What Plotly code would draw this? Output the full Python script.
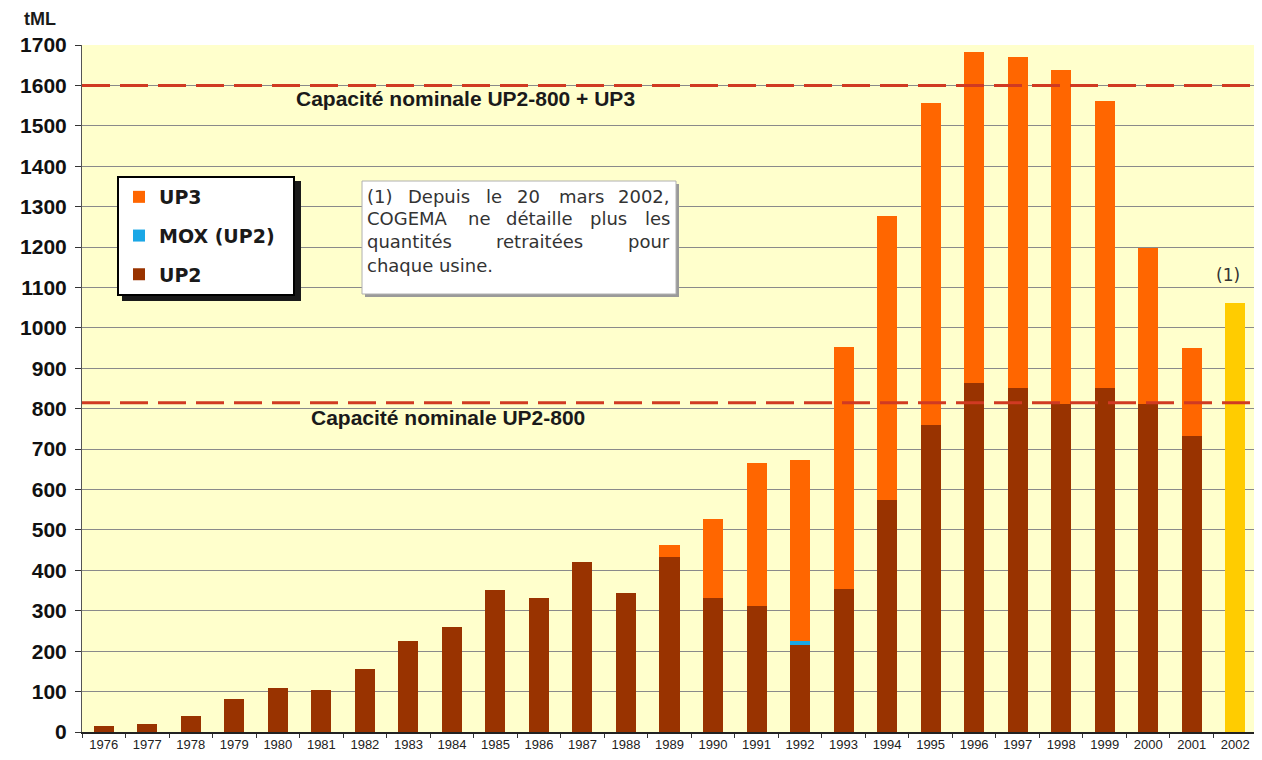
import plotly.graph_objects as go

# ---------------- data ----------------
years = [str(y) for y in range(1976, 2003)]
up2 = [15, 20, 40, 82, 109, 105, 156, 225, 260, 351, 332, 421, 344, 433, 332, 312,
       215, 354, 574, 760, 864, 851, 812, 851, 812, 733, None]
mox = [None] * 16 + [10] + [None] * 10
up3 = [None] * 13 + [30, 195, 354, 448, 599, 703, 797, 819, 819, 826, 710, 386, 216, None]
total_2002 = [None] * 26 + [1062]
capacities = [1600, 815]
capacity_labels = ["Capacité nominale UP2-800 + UP3", "Capacité nominale UP2-800"]
y_ticks = list(range(0, 1701, 100))

note_lines = [
    ["(1)", "Depuis", "le", "20", "mars", "2002,"],
    ["COGEMA", "ne", "détaille", "plus", "les"],
    ["quantités", "retraitées", "pour"],
    ["chaque usine."],
]

# ---------------- layout helpers (screen pixel -> paper) ----------------
OFF = 8                      # page body margin
W, H = 1262 - OFF, 760 - OFF
L, R, T, B = 82 - OFF, 5, 45 - OFF, 28
PW, PH = W - L - R, H - T - B


def px(x):
    return (x - OFF - L) / PW


def py(y):
    return 1 - (y - OFF - T) / PH


fig = go.Figure()
fig.add_trace(go.Bar(x=years, y=up2, name="UP2", marker_color="#993300",
                     marker_line_width=0, legendgroup="a", legendrank=3))
fig.add_trace(go.Bar(x=years, y=mox, name="MOX (UP2)\u00a0\u00a0", marker_color="#1AA7E6",
                     marker_line_width=0, legendgroup="b", legendrank=2))
fig.add_trace(go.Bar(x=years, y=up3, name="UP3", marker_color="#FF6600",
                     marker_line_width=0, legendgroup="c", legendrank=1))
fig.add_trace(go.Bar(x=years, y=total_2002, name="Total", marker_color="#FFCC00",
                     marker_line_width=0, showlegend=False))

shapes = []
# legend shadow
shapes.append(dict(type="rect", xref="paper", yref="paper", x0=px(122), x1=px(301),
                   y0=py(301), y1=py(181), fillcolor="#1a1a1a", line_width=0, layer="above"))
# note box shadow + box
shapes.append(dict(type="rect", xref="paper", yref="paper", x0=px(365), x1=px(679),
                   y0=py(297), y1=py(184), fillcolor="#9a9a9a", line_width=0, layer="above"))
shapes.append(dict(type="rect", xref="paper", yref="paper", x0=px(362), x1=px(676),
                   y0=py(294), y1=py(181), fillcolor="white",
                   line=dict(color="#b0b0b0", width=1), layer="above"))
for c in capacities:
    shapes.append(dict(type="line", xref="paper", yref="y", x0=0, x1=1, y0=c, y1=c,
                       line=dict(color="#D03A22", width=3, dash="28px,10px"), layer="above"))

annotations = []
label_pos = [(465, 98), (448, 417)]
for txt, (lx, ly) in zip(capacity_labels, label_pos):
    annotations.append(dict(xref="paper", yref="paper", x=px(lx), y=py(ly), text=txt,
                            showarrow=False, xanchor="center", yanchor="middle",
                            font=dict(family="Liberation Sans", size=21, weight="bold",
                                      color="#1a1a1a")))

# note text, word by word to mimic justified text
word_x = [
    [365, 438.5, 494, 528.5, 581.5, 672],
    [365, 478.5, 539, 608, 672],
    [365, 539.5, 672],
    [365],
]
line_y = [196, 218, 242, 265]
for words, xs, ly in zip(note_lines, word_x, line_y):
    n = len(words)
    for i, (w, wx) in enumerate(zip(words, xs)):
        if i == 0:
            anchor = "left"
        elif i == n - 1:
            anchor = "right"
        else:
            anchor = "center"
        annotations.append(dict(xref="paper", yref="paper", x=px(wx), y=py(ly), text=w,
                                showarrow=False, xanchor=anchor, yanchor="middle",
                                font=dict(family="DejaVu Sans", size=18, color="#333333")))

annotations.append(dict(xref="x", yref="y", x=len(years) - 1, y=total_2002[-1], text="(1)",
                        showarrow=False, xanchor="center", yanchor="bottom", yshift=16,
                        xshift=-7, font=dict(family="DejaVu Sans", size=17, color="#333333")))
annotations.append(dict(xref="paper", yref="paper", x=px(40), y=py(19), text="tML",
                        showarrow=False, xanchor="center", yanchor="middle",
                        font=dict(family="Liberation Sans", size=18, weight="bold",
                                  color="#1a1a1a")))

fig.update_layout(
    width=W, height=H,
    margin=dict(l=L, r=R, t=T, b=B, autoexpand=False),
    barmode="stack", bargap=0.54,
    paper_bgcolor="white", plot_bgcolor="#FFFFCC",
    shapes=shapes, annotations=annotations,
    legend=dict(x=px(117), y=py(176), xanchor="left", yanchor="top",
                bgcolor="white", bordercolor="black", borderwidth=2,
                traceorder="grouped", tracegroupgap=11,
                font=dict(family="DejaVu Sans", size=19, weight="bold", color="#1a1a1a")),
    xaxis=dict(type="category", tickson="boundaries", ticks="outside", ticklen=4,
               tickcolor="#333", showline=True, linecolor="#222", linewidth=1.5,
               showgrid=False, tickangle=0, automargin=False,
               tickfont=dict(family="Liberation Sans", size=13, color="#222")),
    yaxis=dict(range=[0, 1700], tickvals=y_ticks, ticks="outside", ticklen=6,
               tickcolor="#333", showline=True, linecolor="#555", linewidth=1,
               showgrid=True, gridcolor="#8a8a8a", gridwidth=1, zeroline=False,
               ticklabelstandoff=4, automargin=False,
               tickfont=dict(family="Liberation Sans", size=21, weight="bold",
                             color="#111")),
)

fig.write_html("out.html")
